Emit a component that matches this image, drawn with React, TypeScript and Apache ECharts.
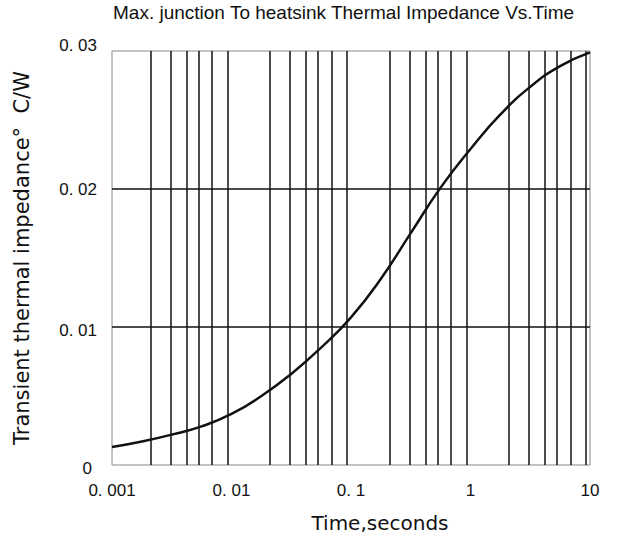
import React, { useEffect, useRef } from "react";
import * as echarts from "echarts";

const titleText = "Max. junction To heatsink Thermal Impedance Vs.Time";
const xName = "Time,seconds";
const yName = "Transient thermal impedance°  C/W";

const timeSeconds = [0.001, 0.00178, 0.00316, 0.00562, 0.01, 0.0178, 0.0316, 0.0562, 0.1, 0.178, 0.316, 0.562, 1, 1.78, 3.16, 5.62, 10];
const impedance = [0.0013, 0.0017, 0.0022, 0.0028, 0.0037, 0.005, 0.0066, 0.0085, 0.0107, 0.0135, 0.0168, 0.0201, 0.0229, 0.0254, 0.0274, 0.0289, 0.0299];

const xTickLabels = ["0. 001", "0. 01", "0. 1", "1", "10"];
const yTickLabels = ["0", "0. 01", "0. 02", "0. 03"];

const decades = [0.001, 0.01, 0.1, 1];
const gridMultipliers = [2.1, 3.1, 4.2, 5.3, 6.9, 9.3];

export default function App() {
  const ref = useRef<HTMLDivElement>(null);
  useEffect(() => {
    if (!ref.current) return;
    const chart = echarts.init(ref.current, null, { renderer: "svg" });
    const verticals: number[] = [];
    decades.forEach((d) => gridMultipliers.forEach((m) => {
      const v = d * m;
      if (v < 10) verticals.push(v);
    }));
    const font = "Liberation Sans";
    const nameFont = "DejaVu Sans";
    chart.setOption({
      animation: false,
      backgroundColor: "#fff",
      title: {
        text: titleText,
        left: 113,
        top: 3,
        padding: 0,
        textStyle: { fontFamily: font, fontSize: 19, fontWeight: "normal", color: "#111" },
      },
      grid: { left: 112, right: 29, top: 51, bottom: 78, show: true, borderColor: "#888", borderWidth: 1 },
      xAxis: {
        type: "log",
        logBase: 10,
        min: 0.001,
        max: 10,
        name: xName,
        nameLocation: "middle",
        nameGap: 48,
        nameTextStyle: { fontFamily: nameFont, fontSize: 20, color: "#111", padding: [0, 0, 0, 58], verticalAlign: "top" },
        axisLine: { show: false },
        axisTick: { show: false },
        splitLine: { show: false },
        axisLabel: {
          margin: 17,
          fontFamily: font,
          fontSize: 17,
          color: "#111",
          formatter: (v: number) => xTickLabels[Math.round(Math.log10(v)) + 3] ?? "",
        },
      },
      yAxis: {
        type: "value",
        min: 0,
        max: 0.03,
        interval: 0.01,
        name: yName,
        nameLocation: "middle",
        nameGap: 80,
        nameTextStyle: { fontFamily: nameFont, fontSize: 21, color: "#111" },
        axisLine: { show: false },
        axisTick: { show: false },
        splitLine: { show: true, showMinLine: false, showMaxLine: false, lineStyle: { color: "#111", width: 1.5 } },
        axisLabel: {
          margin: 15,
          fontFamily: font,
          fontSize: 17,
          color: "#111",
          formatter: (v: number) => {
            const i = Math.round(v / 0.01);
            const s = yTickLabels[i] ?? "";
            if (i === 3) return "{top|" + s + "}";
            if (i === 0) return "{bot|" + s + "}";
            if (i === 1) return "{one|" + s + "}";
            return s;
          },
          rich: {
            top: { fontFamily: font, fontSize: 17, color: "#111", padding: [0, 0, 12, 0] },
            bot: { fontFamily: font, fontSize: 17, color: "#111", padding: [6, 5, 0, 0] },
            one: { fontFamily: font, fontSize: 17, color: "#111", padding: [6, 0, 0, 0] },
          },
        },
      },
      series: [
        {
          type: "lines",
          coordinateSystem: "cartesian2d",
          silent: true,
          z: 1,
          lineStyle: { color: "#111", width: 1.5, opacity: 1 },
          data: verticals.map((v) => ({ coords: [[v, 0], [v, 0.03]] })),
        },
        {
          type: "line",
          data: timeSeconds.map((t, i) => [t, impedance[i]]),
          smooth: 0.5,
          symbol: "none",
          lineStyle: { color: "#111", width: 2.5 },
          z: 5,
        },
      ],
    });
    return () => chart.dispose();
  }, []);
  return <div ref={ref} style={{ position: "absolute", left: 0, top: 0, width: 619, height: 543 }} />;
}
